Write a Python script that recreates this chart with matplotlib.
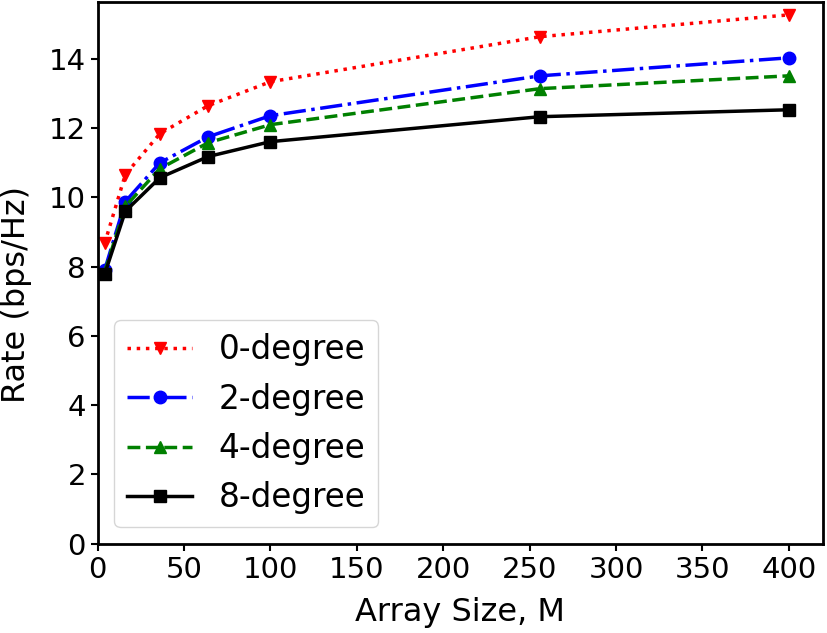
import matplotlib
matplotlib.use("Agg")
import matplotlib.pyplot as plt
from matplotlib.ticker import MultipleLocator

array_size = [4, 16, 36, 64, 100, 256, 400]
rate_0deg = [8.67, 10.66, 11.84, 12.65, 13.34, 14.64, 15.27]
rate_2deg = [7.90, 9.88, 11.00, 11.75, 12.36, 13.51, 14.03]
rate_4deg = [7.84, 9.74, 10.83, 11.58, 12.10, 13.14, 13.51]
rate_8deg = [7.78, 9.60, 10.57, 11.18, 11.61, 12.33, 12.53]

fig = plt.figure(figsize=(8.28, 6.33), dpi=100)
ax = fig.add_axes([0.118, 0.141, 0.876, 0.856])

ax.plot(array_size, rate_0deg, 'rv:', lw=2.5, ms=9, label='0-degree')
ax.plot(array_size, rate_2deg, 'bo-.', lw=2.5, ms=9, label='2-degree')
ax.plot(array_size, rate_4deg, 'g^--', lw=2.5, ms=9, label='4-degree')
ax.plot(array_size, rate_8deg, 'ks-', lw=2.5, ms=8.5, label='8-degree')

ax.set_xlim(left=0)
ax.set_ylim(bottom=0)
ax.xaxis.set_major_locator(MultipleLocator(50))
ax.set_xlabel('Array Size, M', fontsize=23, labelpad=10)
ax.set_ylabel('Rate (bps/Hz)', fontsize=23)
ax.yaxis.set_label_coords(-0.091, 0.46)
ax.tick_params(labelsize=21, width=1.5, length=5)
for s in ax.spines.values():
    s.set_linewidth(2)
ax.legend(fontsize=23.5, loc='lower left')

plt.savefig("out.png", dpi=100)
